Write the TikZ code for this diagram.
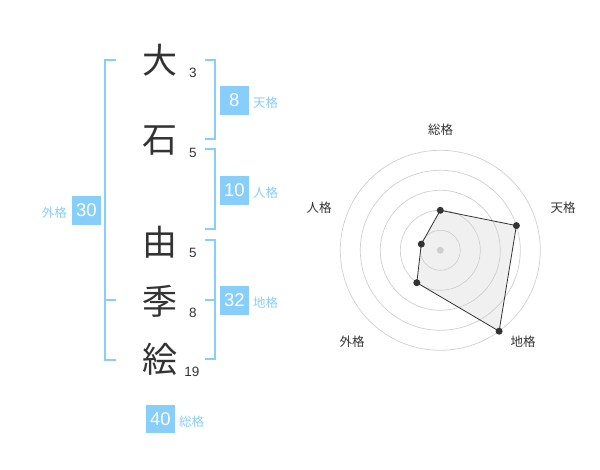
\documentclass[tikz,border=0pt]{standalone}
\usepackage{fontspec}
\setmainfont{Liberation Sans}
\newfontfamily\cjk{Noto Sans CJK JP}
\definecolor{skyb}{HTML}{87CEFA}
\definecolor{ink}{HTML}{333333}
\definecolor{ring}{HTML}{CFCFCF}
\definecolor{polyfill}{HTML}{F0F0F0}
\tikzset{
  kanji/.style={font=\cjk\fontsize{35}{35}\selectfont, text=ink, inner sep=0pt},
  strokes/.style={font=\fontsize{13.5}{13.5}\selectfont, text=ink, inner sep=0pt},
  scorebox/.style={fill=skyb, text=white, minimum width=28.5pt, minimum height=28.5pt, inner sep=0pt, font=\fontsize{18.5}{18.5}\selectfont},
  kakulabel/.style={font=\cjk\fontsize{12.5}{12.5}\selectfont, text=skyb, inner sep=0pt},
  bracket/.style={draw=skyb, line width=2pt},
  axislabel/.style={font=\cjk\fontsize{12.5}{12.5}\selectfont, text=ink, inner sep=0pt},
  ringline/.style={draw=ring, line width=0.7pt},
  vdot/.style={circle, fill=ink, minimum size=7pt, inner sep=0pt},
}
\begin{document}
\begin{tikzpicture}[x=1pt,y=-1pt]
\useasboundingbox (0,0) rectangle (600,470);
% name characters
\node[kanji] (k1) at (160,60) {大};
\node[kanji] (k2) at (160,141) {石};
\node[kanji] (k3) at (160,242) {由};
\node[kanji] (k4) at (160,301) {季};
\node[kanji] (k5) at (160,359) {絵};
% stroke counts
\node[strokes] (s1) at (193,73) {3};
\node[strokes] (s2) at (193,153) {5};
\node[strokes] (s3) at (193,253) {5};
\node[strokes] (s4) at (193,313) {8};
\node[strokes] (s5) at (192,372) {19};
% brackets
\draw[bracket] (116,60) -- (105,60) -- (105,360) -- (116,360);
\draw[bracket] (105,300) -- (116,300);
\draw[bracket] (205,60) -- (215,60) -- (215,139.5) -- (205,139.5);
\draw[bracket] (205,149) -- (215,149) -- (215,229) -- (205,229);
\draw[bracket] (205,240) -- (215,240) -- (215,359.5) -- (205,359.5);
\draw[bracket] (205,300) -- (215,300);
% scores
\node[scorebox] (b1) at (234.3,100.3) {8};
\node[kakulabel, anchor=west] (l1) at (253,103) {天格};
\node[scorebox] (b2) at (234.3,190.3) {10};
\node[kakulabel, anchor=west] (l2) at (253,193) {人格};
\node[scorebox] (b3) at (86.5,210.3) {30};
\node[kakulabel, anchor=east] (l3) at (67,213) {外格};
\node[scorebox] (b4) at (234.3,300.3) {32};
\node[kakulabel, anchor=west] (l4) at (253,303) {地格};
\node[scorebox] (b5) at (160.3,419) {40};
\node[kakulabel, anchor=west] (l5) at (179,422) {総格};
% radar
\coordinate (c) at (440.3,250.3);
\coordinate (q1) at (440.3,210.3);
\coordinate (q2) at (516.4,225.6);
\coordinate (q3) at (499.1,331.2);
\coordinate (q4) at (416.8,282.7);
\coordinate (q5) at (421.3,244.1);
\fill[polyfill] (q1) -- (q2) -- (q3) -- (q4) -- (q5) -- cycle;
\foreach \r in {20,40,60,80,100} \draw[ringline] (c) circle (\r);
\node[circle, fill=ring, minimum size=7pt, inner sep=0pt] (cd) at (c) {};
\draw[ink, line width=0.8pt] (q1) -- (q2) -- (q3) -- (q4) -- (q5) -- cycle;
\node[vdot] (p1) at (q1) {};
\node[vdot] (p2) at (q2) {};
\node[vdot] (p3) at (q3) {};
\node[vdot] (p4) at (q4) {};
\node[vdot] (p5) at (q5) {};
\node[axislabel] (a1) at (440.5,130) {総格};
\node[axislabel] (a2) at (563,208) {天格};
\node[axislabel] (a3) at (523,342) {地格};
\node[axislabel] (a4) at (352,342) {外格};
\node[axislabel] (a5) at (319,208) {人格};
\end{tikzpicture}
\end{document}
